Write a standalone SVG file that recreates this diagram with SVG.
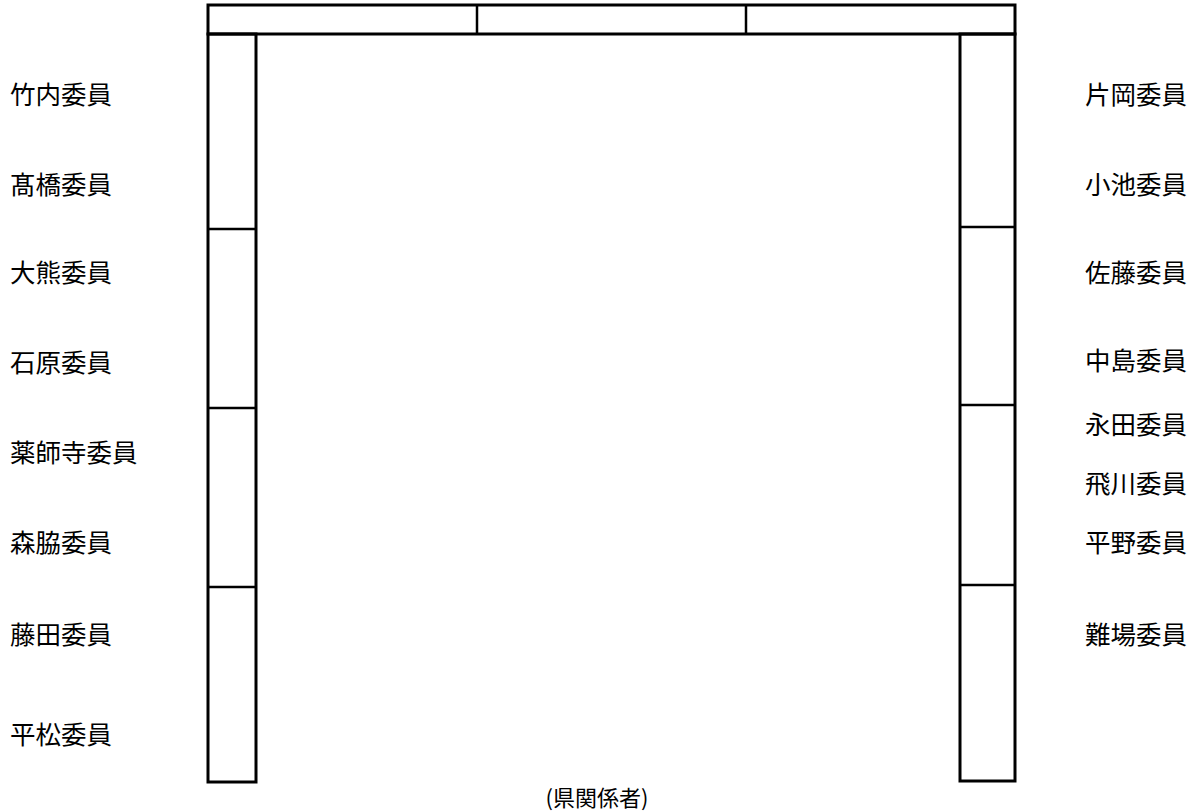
<svg xmlns="http://www.w3.org/2000/svg" width="1194" height="812" viewBox="0 0 1194 812">
<style>
.b{fill:none;stroke:#000;stroke-width:3}
.d{stroke:#000;stroke-width:2.5}
text{font-family:"Noto Sans CJK JP","Liberation Sans",sans-serif;font-size:25.5px;fill:#000}
.r{text-anchor:end}
</style>
<rect width="1194" height="812" fill="#fff"/>
<g id="top-table">
<rect class="b" x="208" y="5" width="807" height="29"/>
<line class="d" x1="477" y1="5" x2="477" y2="34"/>
<line class="d" x1="746" y1="5" x2="746" y2="34"/>
</g>
<g id="left-table">
<rect class="b" x="208" y="34" width="48" height="748"/>
<line class="d" x1="208" y1="229" x2="256" y2="229"/>
<line class="d" x1="208" y1="408" x2="256" y2="408"/>
<line class="d" x1="208" y1="587" x2="256" y2="587"/>
</g>
<g id="right-table">
<rect class="b" x="960" y="34" width="55" height="747"/>
<line class="d" x1="960" y1="227" x2="1015" y2="227"/>
<line class="d" x1="960" y1="405" x2="1015" y2="405"/>
<line class="d" x1="960" y1="585" x2="1015" y2="585"/>
</g>
<g id="left-labels">
<text x="10" y="104">竹内委員</text>
<text x="10" y="194">髙橋委員</text>
<text x="10" y="282">大熊委員</text>
<text x="10" y="372">石原委員</text>
<text x="10" y="462">薬師寺委員</text>
<text x="10" y="552">森脇委員</text>
<text x="10" y="644">藤田委員</text>
<text x="10" y="744">平松委員</text>
</g>
<g id="right-labels">
<text class="r" x="1187" y="104">片岡委員</text>
<text class="r" x="1187" y="194">小池委員</text>
<text class="r" x="1187" y="282">佐藤委員</text>
<text class="r" x="1187" y="370">中島委員</text>
<text class="r" x="1187" y="434">永田委員</text>
<text class="r" x="1187" y="493">飛川委員</text>
<text class="r" x="1187" y="552">平野委員</text>
<text class="r" x="1187" y="644">難場委員</text>
</g>
<g id="bottom-label">
<text x="597" y="806" text-anchor="middle" style="font-size:22px">(県関係者)</text>
</g>
</svg>
